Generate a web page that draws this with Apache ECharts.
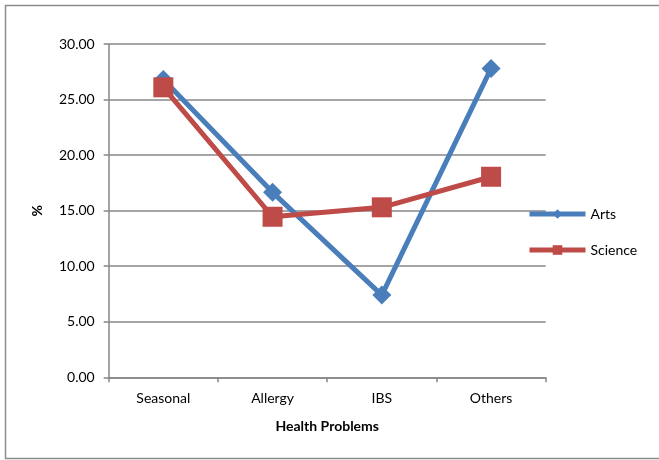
<!DOCTYPE html>
<html>
<head>
<meta charset="utf-8">
<script src="https://cdn.jsdelivr.net/npm/echarts@6/dist/echarts.min.js"></script>
<style>
html,body{margin:0;padding:0;background:#fff;}
#chart{width:659px;height:460px;}
</style>
</head>
<body>
<div id="chart"></div>
<script>
// Health problems by stream (%)
const categories = ['Seasonal', 'Allergy', 'IBS', 'Others'];
const artsValues = [26.8, 16.65, 7.4, 27.8];
const scienceValues = [26.1, 14.45, 15.3, 18.05];
const yTicks = [0, 5, 10, 15, 20, 25, 30];

const FONT = 'Lato, "Open Sans", sans-serif';
const GRID_COLOR = '#878787';

const chart = echarts.init(document.getElementById('chart'), null, { renderer: 'canvas' });

chart.setOption({
  backgroundColor: '#ffffff',
  animation: false,
  graphic: [{
    type: 'rect',
    shape: { x: 5.5, y: 5.5, width: 660, height: 453 },
    style: { fill: 'none', stroke: '#8c8c8c', lineWidth: 1.5 },
    z: -1
  }],
  grid: { left: 108.7, right: 113.3, top: 44, bottom: 82.7 },
  legend: {
    orient: 'vertical',
    left: 522,
    top: 202,
    itemWidth: 56,
    itemHeight: 12,
    itemGap: 22,
    lineStyle: { width: 5 },
    textStyle: { fontFamily: FONT, fontSize: 14, color: '#000' },
    data: ['Arts', 'Science']
  },
  xAxis: {
    type: 'category',
    data: categories,
    boundaryGap: true,
    name: 'Health Problems',
    nameLocation: 'middle',
    nameGap: 42,
    nameTextStyle: { fontFamily: FONT, fontSize: 14, fontWeight: 'bold', color: '#000' },
    axisLine: { lineStyle: { color: GRID_COLOR, width: 1.5 } },
    axisTick: { show: true, length: 5, lineStyle: { color: GRID_COLOR, width: 1.5 } },
    axisLabel: { fontFamily: FONT, fontSize: 14, color: '#000', margin: 14 }
  },
  yAxis: {
    type: 'value',
    min: yTicks[0],
    max: yTicks[yTicks.length - 1],
    interval: 5,
    name: '%',
    nameLocation: 'middle',
    nameGap: 64,
    nameRotate: 90,
    nameTextStyle: { fontFamily: FONT, fontSize: 14, fontWeight: 'bold', color: '#000' },
    axisLine: { show: true, lineStyle: { color: GRID_COLOR, width: 1.5 } },
    axisTick: { show: true, length: 5, lineStyle: { color: GRID_COLOR, width: 1.5 } },
    splitLine: { lineStyle: { color: GRID_COLOR, width: 1.5 } },
    axisLabel: {
      fontFamily: FONT, fontSize: 14, color: '#000', margin: 14,
      formatter: v => v.toFixed(2)
    }
  },
  series: [
    {
      name: 'Arts',
      type: 'line',
      data: artsValues,
      symbol: 'diamond',
      symbolSize: 19,
      lineStyle: { color: '#4A7EBB', width: 5 },
      itemStyle: { color: '#4A7EBB' },
      z: 2
    },
    {
      name: 'Science',
      type: 'line',
      data: scienceValues,
      symbol: 'rect',
      symbolSize: 20,
      lineStyle: { color: '#BE4B48', width: 5 },
      itemStyle: { color: '#BE4B48' },
      z: 3
    }
  ]
});
</script>
</body>
</html>
